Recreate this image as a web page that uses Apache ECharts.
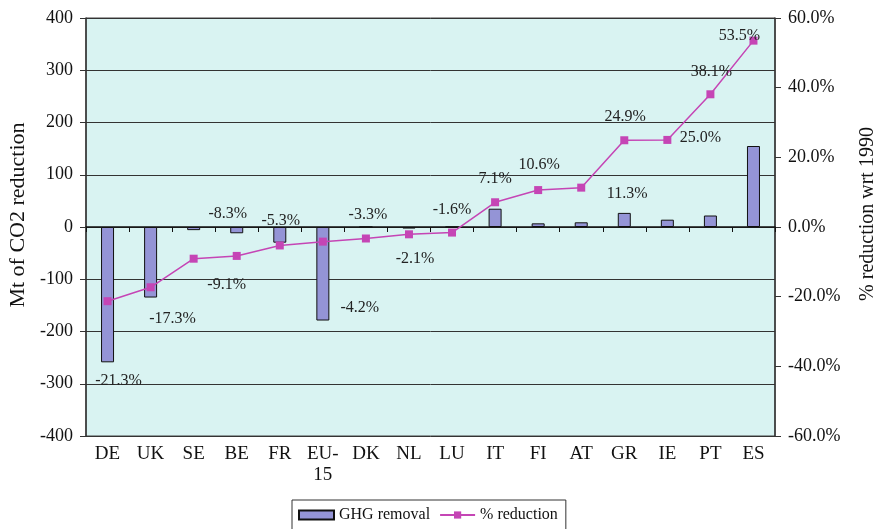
<!DOCTYPE html>
<html><head><meta charset="utf-8">
<script src="https://cdn.jsdelivr.net/npm/echarts@6/dist/echarts.min.js"></script>
<style>html,body{margin:0;padding:0;background:#fff}#c{width:880px;height:529px}</style>
</head><body><div id="c"></div>
<script>
const categories = ['DE','UK','SE','BE','FR','EU-\n15','DK','NL','LU','IT','FI','AT','GR','IE','PT','ES'];
const ghgRemoval = [-259,-135,-6,-12,-30,-179,0,-3,0,35,7,9,27,14,22,155];
const pctReduction = [-21.3,-17.3,-9.1,-8.3,-5.3,-4.2,-3.3,-2.1,-1.6,7.1,10.6,11.3,24.9,25.0,38.1,53.5];
const labelOffsets = [[11,80],[22,32],[33,26],[-9,-42],[1,-25],[37,66],[2,-24],[6,24],[0,-23],[0,-23],[1,-25],[46,6],[1,-23],[33,-2],[1,-22],[-14,-5]];

const serif = 'Liberation Serif';
const chart = echarts.init(document.getElementById('c'));
chart.setOption({
  animation: false,
  textStyle: {fontFamily: serif},
  grid: {left: 86, right: 105, top: 18, bottom: 93, show: true, outerBoundsMode: 'none', containLabel: false,
         backgroundColor: '#d9f3f2', borderColor: '#444', borderWidth: 1},
  legend: {
    top: 500, left: 292, itemGap: 9, padding: [7, 8, 7, 6],
    borderColor: '#333', borderWidth: 1,
    textStyle: {fontFamily: serif, fontSize: 16, color: '#111'},
    itemWidth: 35, itemHeight: 9,
    data: [{name: 'GHG removal', icon: 'rect'}, {name: '% reduction'}]
  },
  xAxis: [
    {type: 'category', data: categories, position: 'bottom',
     axisLine: {onZero: true, lineStyle: {color: '#111', width: 1.5}},
     axisTick: {show: true, length: 5, lineStyle: {color: '#111'}},
     axisLabel: {show: false}},
    {type: 'category', data: categories, position: 'bottom',
     axisLine: {show: false, onZero: false}, axisTick: {show: false},
     axisLabel: {color: '#111', fontFamily: serif, fontSize: 19, margin: 8, lineHeight: 21}}
  ],
  yAxis: [
    {type: 'value', min: -400, max: 400, interval: 100, position: 'left',
     name: 'Mt of CO2 reduction', nameLocation: 'middle', nameGap: 54,
     nameTextStyle: {fontFamily: serif, fontSize: 22, color: '#111', padding: [0, 0, 0, 24]},
     axisLine: {show: true, lineStyle: {color: '#333', width: 1.5}},
     axisTick: {show: true, length: 6, lineStyle: {color: '#333'}},
     axisLabel: {color: '#111', fontFamily: serif, fontSize: 18, margin: 13},
     splitLine: {show: true, lineStyle: {color: '#333', width: 1}}},
    {type: 'value', min: -60, max: 60, interval: 20, position: 'right',
     name: '% reduction wrt 1990', nameLocation: 'middle', nameGap: 83, nameRotate: 90,
     nameTextStyle: {fontFamily: serif, fontSize: 20, color: '#111', padding: [0, 0, 0, 26]},
     axisLine: {show: true, lineStyle: {color: '#333', width: 1.5}},
     axisTick: {show: true, length: 6, lineStyle: {color: '#333'}},
     axisLabel: {color: '#111', fontFamily: serif, fontSize: 18, margin: 13, formatter: v => v.toFixed(1) + '%'},
     splitLine: {show: false}}
  ],
  series: [
    {name: 'GHG removal', type: 'bar', xAxisIndex: 0, yAxisIndex: 0, data: ghgRemoval,
     barWidth: 13, itemStyle: {color: '#9494d6', borderColor: '#111', borderWidth: 1}},
    {name: '% reduction', type: 'line', xAxisIndex: 0, yAxisIndex: 1,
     data: pctReduction.map((v, i) => ({value: v, label: {offset: labelOffsets[i]}})),
     symbol: 'rect', symbolSize: 8,
     lineStyle: {color: '#c545b5', width: 1.5}, itemStyle: {color: '#c545b5'},
     label: {show: true, position: 'inside', fontFamily: serif, fontSize: 16, color: '#222',
             formatter: p => p.value.toFixed(1) + '%'}}
  ]
});
</script></body></html>
